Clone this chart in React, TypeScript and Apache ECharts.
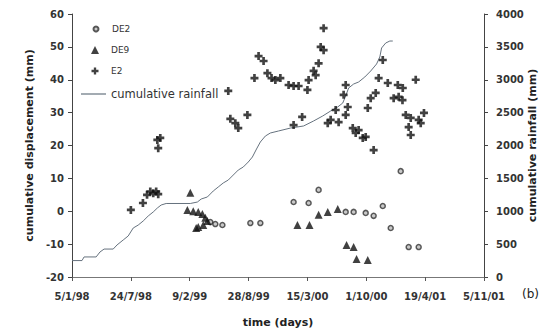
import React, { useEffect, useRef } from "react";
import * as echarts from "echarts";

// Displacement monitoring points (date, cumulative displacement in mm)
const de2Dates = [
  "1999-04-20", "1999-05-07", "1999-05-31", "1999-09-03", "1999-10-07",
  "2000-01-28", "2000-03-19", "2000-04-22", "2000-07-23", "2000-08-19",
  "2000-09-29", "2000-10-26", "2000-11-26", "2000-12-23", "2001-01-26",
  "2001-02-22", "2001-03-28",
];
const de2Values = [
  -3.3, -3.9, -4.2, -3.6, -3.6,
  2.8, 2.5, 6.5, -0.2, -0.2,
  -0.5, -1.4, 1.6, -5.1, 12.2,
  -10.9, -10.9,
];

const de9Dates = [
  "1999-02-01", "1999-02-11", "1999-02-21", "1999-03-03", "1999-03-10",
  "1999-03-10", "1999-03-24", "1999-03-27", "1999-04-03", "1999-04-10",
  "2000-02-10", "2000-03-22", "2000-04-22", "2000-05-23", "2000-06-26",
  "2000-07-26", "2000-08-19", "2000-08-29", "2000-10-06",
];
const de9Values = [
  0.4, 5.6, 0.0, -5.1, -0.2,
  -4.8, -0.8, -4.2, -2.0, -3.0,
  -4.2, -4.2, -1.1, -0.2, 0.7,
  -10.3, -10.9, -14.5, -14.8,
];

const e2Dates = [
  "1998-07-24", "1998-09-03", "1998-09-17", "1998-09-28", "1998-10-08",
  "1998-10-18", "1998-10-25", "1998-10-22", "1998-11-01", "1998-10-25",
  "1999-06-20", "1999-06-27", "1999-07-14", "1999-07-24", "1999-08-24",
  "1999-09-17", "1999-10-01", "1999-10-18", "1999-10-31", "1999-11-14",
  "1999-11-27", "1999-12-14", "2000-01-11", "2000-01-28", "2000-02-14",
  "2000-01-28", "2000-02-26", "2000-03-15", "2000-03-19", "2000-04-05",
  "2000-04-12", "2000-04-22", "2000-04-29", "2000-05-09", "2000-05-09",
  "2000-05-23", "2000-06-02", "2000-06-19", "2000-06-29", "2000-07-16",
  "2000-07-23", "2000-07-30", "2000-07-23", "2000-08-16", "2000-08-26",
  "2000-09-05", "2000-09-19", "2000-09-29", "2000-10-26", "2000-10-06",
  "2000-10-16", "2000-11-02", "2000-11-12", "2000-11-26", "2000-12-13",
  "2001-01-02", "2001-01-16", "2001-01-19", "2001-02-02", "2001-02-01",
  "2001-02-12", "2001-02-22", "2001-03-01", "2001-03-01", "2001-03-18",
  "2001-03-28", "2001-04-04", "2001-04-15",
];
const e2Values = [
  0.4, 2.5, 5.0, 6.0, 5.5,
  6.0, 5.2, 21.7, 22.3, 19.2,
  36.6, 28.1, 26.8, 25.3, 29.3,
  40.5, 47.2, 45.7, 42.0, 40.5,
  39.9, 40.5, 38.4, 38.1, 38.1,
  26.2, 28.7, 36.9, 39.9, 42.7,
  41.4, 45.0, 50.0, 49.0, 55.7,
  26.8, 27.8, 30.8, 27.1, 35.4,
  38.4, 31.7, 29.3, 25.3, 23.8,
  24.7, 22.3, 22.6, 18.6, 31.4,
  34.4, 36.0, 40.5, 46.0, 39.0,
  34.4, 38.4, 34.8, 37.5, 33.8,
  29.3, 25.6, 28.4, 23.2, 40.0,
  27.8, 26.8, 29.9,
];

// Cumulative rainfall (date, mm)
const rainDates = [
  "1998-01-05", "1998-02-08", "1998-02-15", "1998-03-28", "1998-04-10",
  "1998-04-24", "1998-05-25", "1998-06-07", "1998-06-28", "1998-07-15",
  "1998-08-01", "1998-08-18", "1998-09-04", "1998-09-21", "1998-10-08",
  "1998-10-22", "1998-11-04", "1998-11-21", "1999-02-11", "1999-03-07",
  "1999-03-20", "1999-04-10", "1999-04-30", "1999-05-17", "1999-06-03",
  "1999-06-20", "1999-07-07", "1999-07-24", "1999-08-10", "1999-08-27",
  "1999-09-10", "1999-09-24", "1999-10-07", "1999-10-24", "1999-11-10",
  "1999-12-08", "2000-01-18", "2000-03-02", "2000-04-05", "2000-05-06",
  "2000-06-02", "2000-06-26", "2000-07-13", "2000-07-23", "2000-08-02",
  "2000-08-19", "2000-09-05", "2000-09-26", "2000-10-16", "2000-11-05",
  "2000-11-16", "2000-11-22", "2000-12-06", "2000-12-20", "2000-12-30",
];
const rainValues = [
  250, 250, 305, 305, 380,
  425, 425, 487, 563, 624,
  745, 790, 852, 928, 989,
  1049, 1095, 1118, 1118, 1140,
  1186, 1217, 1308, 1369, 1430,
  1475, 1551, 1627, 1673, 1749,
  1825, 1947, 2053, 2144, 2190,
  2221, 2266, 2297, 2373, 2449,
  2525, 2586, 2646, 2753, 2875,
  2935, 2966, 3042, 3133, 3240,
  3346, 3483, 3559, 3589, 3589,
];

// Time axis runs in spreadsheet day serials, 200-day ticks from 5/1/98
const xMin = 35800;
const xMax = 37200;
const xStep = 200;

const FONT = "DejaVu Sans";
const EXCEL_EPOCH = 25569;

function toSerial(s: string): number {
  const [y, m, d] = s.split("-").map(Number);
  return Math.round(Date.UTC(y, m - 1, d) / 86400000) + EXCEL_EPOCH;
}

function formatSerial(v: number): string {
  const d = new Date((Math.round(v) - EXCEL_EPOCH) * 86400000);
  const yy = String(d.getUTCFullYear()).slice(2);
  return `${d.getUTCDate()}/${d.getUTCMonth() + 1}/${yy}`;
}

function pairs(dates: string[], values: number[]) {
  return dates.map((d, i) => [toSerial(d), values[i]]);
}

const crossPath = "path://M3,0H6V3H9V6H6V9H3V6H0V3H3Z";

// One legend block per entry so each marker keeps its own size;
// the text always starts at the same x.
const LEGEND_TEXT_X = 111;
function legendFor(
  name: string,
  centerY: number,
  iconW: number,
  iconH: number,
  fontSize: number,
  lineHeight: number,
  left: number,
  extra: Record<string, unknown> = {}
) {
  const pad = Math.max(0, LEGEND_TEXT_X - (left + iconW + 5));
  const boxH = Math.max(iconH, lineHeight);
  return {
    data: [{ name, ...extra }],
    left,
    top: centerY - boxH / 2,
    padding: 0,
    itemWidth: iconW,
    itemHeight: iconH,
    orient: "vertical",
    selectedMode: false,
    textStyle: {
      fontFamily: FONT,
      fontSize,
      lineHeight,
      color: "#333",
      padding: [0, 0, 0, pad],
    },
  };
}

export default function App() {
  const ref = useRef<HTMLDivElement>(null);

  useEffect(() => {
    document.body.style.margin = "0";
    const chart = echarts.init(ref.current!, null, { renderer: "svg" });

    const axisLabel = { fontFamily: FONT, fontSize: 10, fontWeight: "bold", color: "#333" };
    const nameStyle = { fontFamily: FONT, fontSize: 11, fontWeight: "bold", color: "#222" };

    chart.setOption({
      animation: false,
      backgroundColor: "#fff",
      grid: {
        left: 72,
        right: 56,
        top: 14,
        bottom: 54,
        containLabel: false,
        outerBoundsMode: "none",
      },
      legend: [
        legendFor("DE2", 29, 5, 5, 9, 10, 92.5),
        legendFor("DE9", 50, 8, 8, 9, 10, 91),
        legendFor("E2", 71, 7, 7, 9, 10, 91.5),
        legendFor("cumulative rainfall", 94, 25, 1.2, 11.5, 13, 81, { icon: "rect" }),
      ],
      xAxis: {
        type: "value",
        min: xMin,
        max: xMax,
        interval: xStep,
        name: "time (days)",
        nameLocation: "middle",
        nameGap: 40,
        nameMoveOverlap: false,
        nameTextStyle: nameStyle,
        axisLine: { onZero: false, lineStyle: { color: "#777", width: 1 } },
        axisTick: { length: 4, lineStyle: { color: "#555" } },
        axisLabel: { ...axisLabel, margin: 14, formatter: formatSerial },
        splitLine: { show: false },
      },
      yAxis: [
        {
          type: "value",
          min: -20,
          max: 60,
          interval: 10,
          name: "cumulative displacement (mm)",
          nameLocation: "middle",
          nameGap: 37,
          nameMoveOverlap: false,
          nameRotate: 90,
          nameTextStyle: nameStyle,
          axisLine: { show: true, onZero: false, lineStyle: { color: "#444", width: 1 } },
          axisTick: { show: true, length: 4, lineStyle: { color: "#444" } },
          axisLabel: { ...axisLabel, margin: 8 },
          splitLine: { show: false },
        },
        {
          type: "value",
          position: "right",
          min: 0,
          max: 4000,
          interval: 500,
          name: "cumulative rainfall (mm)",
          nameLocation: "middle",
          nameGap: 43,
          nameMoveOverlap: false,
          nameRotate: 90,
          nameTextStyle: nameStyle,
          axisLine: { show: true, onZero: false, lineStyle: { color: "#444", width: 1 } },
          axisTick: { show: true, length: 4, lineStyle: { color: "#444" } },
          axisLabel: { ...axisLabel, margin: 12, formatter: (v: number) => String(v) },
          splitLine: { show: false },
        },
      ],
      graphic: [
        {
          type: "text",
          left: 522,
          top: 288,
          style: { text: "(b)", fontFamily: FONT, fontSize: 12, fill: "#222" },
        },
      ],
      series: [
        {
          name: "cumulative rainfall",
          type: "line",
          yAxisIndex: 1,
          data: pairs(rainDates, rainValues),
          symbol: "none",
          color: "#66727e",
          lineStyle: { color: "#66727e", width: 1 },
          z: 1,
        },
        {
          name: "DE2",
          type: "scatter",
          data: pairs(de2Dates, de2Values),
          symbol: "circle",
          symbolSize: 5,
          itemStyle: { color: "#bbb", borderColor: "#333", borderWidth: 1.5 },
          z: 3,
        },
        {
          name: "DE9",
          type: "scatter",
          data: pairs(de9Dates, de9Values),
          symbol: "triangle",
          symbolSize: 8,
          itemStyle: { color: "#111" },
          z: 3,
        },
        {
          name: "E2",
          type: "scatter",
          data: pairs(e2Dates, e2Values),
          symbol: crossPath,
          symbolSize: 8,
          itemStyle: { color: "#111" },
          z: 3,
        },
      ],
    });

    return () => chart.dispose();
  }, []);

  return (
    <div
      ref={ref}
      style={{ position: "fixed", left: 0, top: 0, width: 540, height: 331, background: "#fff" }}
    />
  );
}
